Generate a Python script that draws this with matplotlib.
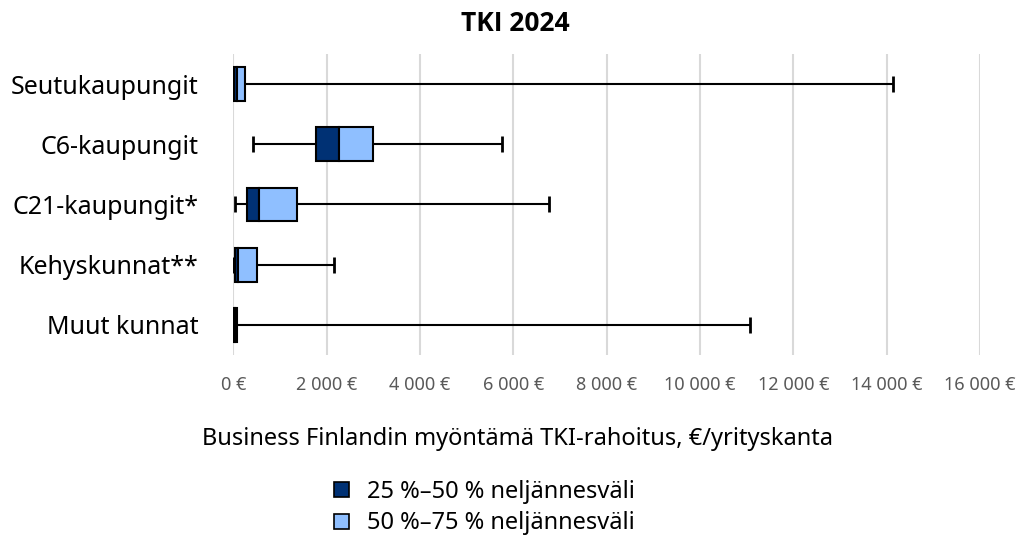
import numpy as np
import matplotlib
matplotlib.use("Agg")
import matplotlib.pyplot as plt
from matplotlib.patches import Patch
from matplotlib.ticker import FuncFormatter

plt.rcParams['font.family'] = ['Noto Sans', 'DejaVu Sans']

# --- data, €/yrityskanta ---
categories = ["Seutukaupungit", "C6-kaupungit", "C21-kaupungit*", "Kehyskunnat**", "Muut kunnat"]
mins    = [0,     415,  30,   0,    0]
q1      = [22,    1780, 287,  30,   20]
medians = [86,    2270, 551,  94,   35]
q3      = [257,   3000, 1372, 515,  70]
maxs    = [14135, 5753, 6767, 2165, 11075]

dark_blue = "#003174"
light_blue = "#8fbfff"

fig = plt.figure(figsize=(10.30, 5.42), dpi=100)
ax = fig.add_axes([0.2265, 0.345, 0.725, 0.5555])

y = np.arange(len(categories))
mins, q1, medians, q3, maxs = map(np.array, (mins, q1, medians, q3, maxs))

# whiskers
ax.hlines(y, mins, maxs, color="black", lw=1.5, zorder=2)
ax.plot(mins, y, ls="none", marker="|", ms=11, mew=2, color="black", zorder=2)
ax.plot(maxs, y, ls="none", marker="|", ms=11, mew=2, color="black", zorder=2)

# boxes
h = 0.56
ax.barh(y, medians - q1, left=q1, height=h, color=dark_blue,
        edgecolor="black", lw=1.5, zorder=3)
ax.barh(y, q3 - medians, left=medians, height=h, color=light_blue,
        edgecolor="black", lw=1.5, zorder=3)

ax.set_xlim(0, 16000)
ax.set_ylim(len(categories) - 0.5, -0.5)
ax.set_xticks(np.arange(0, 16001, 2000))
ax.xaxis.set_major_formatter(FuncFormatter(
    lambda v, p: f"{int(v):,}".replace(",", " ") + " €"))
ax.set_yticks(y)
ax.set_yticklabels(categories, fontsize=18)

ax.grid(axis="x", color="#d9d9d9", lw=1.5, zorder=0)
ax.set_axisbelow(True)
for s in ax.spines.values():
    s.set_visible(False)
ax.tick_params(axis="x", length=0, pad=15, labelsize=13, labelcolor="#595959")
ax.tick_params(axis="y", length=0, pad=25)

fig.text(0.5, 0.956, "TKI 2024", ha="center", va="center", fontsize=19,
         fontweight="bold", family=["Open Sans", "DejaVu Sans"])
fig.text(0.502, 0.19, "Business Finlandin myöntämä TKI-rahoitus, €/yrityskanta",
         ha="center", va="center", fontsize=17)

handles = [Patch(facecolor=dark_blue, edgecolor="black", lw=1.2),
           Patch(facecolor=light_blue, edgecolor="black", lw=1.2)]
fig.legend(handles, ["25 %–50 % neljännesväli", "50 %–75 % neljännesväli"],
           loc="center left", bbox_to_anchor=(0.304, 0.063), frameon=False,
           fontsize=17, handlelength=0.6, handleheight=0.6, handletextpad=0.8,
           labelspacing=0.3)

fig.savefig("out.png", dpi=100)
